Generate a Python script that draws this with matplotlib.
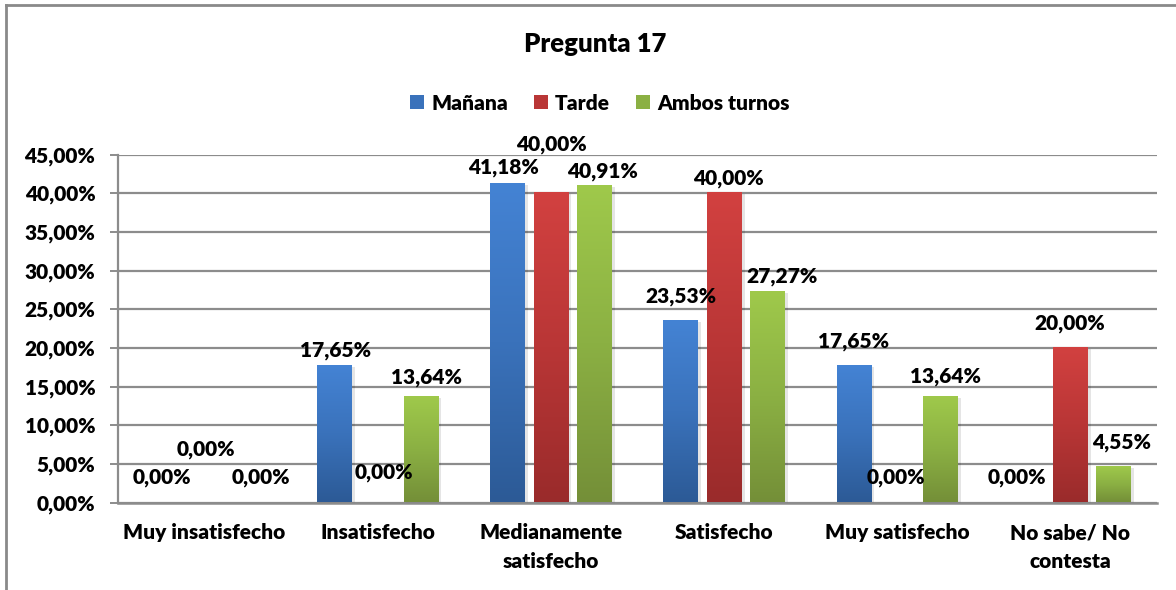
import numpy as np
import matplotlib
matplotlib.use("Agg")
import matplotlib.pyplot as plt
from matplotlib.patches import Patch, Rectangle
from matplotlib.colors import LinearSegmentedColormap
from matplotlib.lines import Line2D

# ---------------- data ----------------
title = "Pregunta 17"
categories = ["Muy insatisfecho", "Insatisfecho", "Medianamente\nsatisfecho",
              "Satisfecho", "Muy satisfecho", "No sabe/ No\ncontesta"]
series_names = ["Mañana", "Tarde", "Ambos turnos"]
manana = [0.00, 17.65, 41.18, 23.53, 17.65, 0.00]
tarde = [0.00, 0.00, 40.00, 40.00, 0.00, 20.00]
ambos = [0.00, 13.64, 40.91, 27.27, 13.64, 4.55]
yticks = [0, 5, 10, 15, 20, 25, 30, 35, 40, 45]

# ---------------- style ----------------
plt.rcParams["font.family"] = ["Lato", "DejaVu Sans"]
WT = "heavy"
plt.rcParams["font.weight"] = WT
FS = 15

top_colors = ["#4483d4", "#d24140", "#9fc94b"]
bot_colors = ["#2c5a96", "#9a2b2b", "#748f38"]
mid_colors = ["#3a72bb", "#b93636", "#8bb043"]

# label offsets in pixels (dx, dy) relative to top centre of each bar
label_offsets = [
    [(1, 25), (1, 16), (-4, 17), (0, 24), (0, 25), (-10, 25)],
    [(1, 53), (6, 30), (1, 49), (4, 15), (-1, 25), (-1, 24)],
    [(13, 25), (5, 20), (8, 15), (15, 15), (5, 21), (8, 25)],
]

W, H = 1176, 590
fig = plt.figure(figsize=(W / 100, H / 100), dpi=100)
fig.patch.set_facecolor("white")

ax = fig.add_axes([118 / W, 1 - 502.5 / H, (1157 - 118) / W, (502.5 - 154.5) / H])
ax.set_xlim(-0.5, len(categories) - 0.5)
ax.set_ylim(0, 45)

series = [manana, tarde, ambos]
bw = 0.2
offs = [-0.25, 0.0, 0.25]
x = np.arange(len(categories))

for s, vals in enumerate(series):
    cmap = LinearSegmentedColormap.from_list("g%d" % s, [bot_colors[s], mid_colors[s], top_colors[s]])
    grad = np.linspace(0, 1, 256).reshape(-1, 1)
    for i, v in enumerate(vals):
        xc = x[i] + offs[s]
        if v > 0:
            sh = Rectangle((xc - bw / 2 + 0.012, 0), bw + 0.006, v - 0.15,
                           facecolor="#000000", alpha=0.10, edgecolor="none", zorder=2)
            ax.add_patch(sh)
            ax.imshow(grad, cmap=cmap, origin="lower", aspect="auto",
                      extent=(xc - bw / 2, xc + bw / 2, 0, v), zorder=3,
                      interpolation="bicubic")
        dx, dy = label_offsets[s][i]
        txt = ("%.2f" % v).replace(".", ",") + "%"
        ax.annotate(txt, xy=(xc, v), xytext=(dx * 0.72, dy * 0.72),
                    textcoords="offset points", ha="center", va="center",
                    fontsize=FS, fontweight=WT, color="black", zorder=5,
                    annotation_clip=False)

ax.set_xlim(-0.5, len(categories) - 0.5)
ax.set_ylim(0, 45)

ax.set_yticks(yticks)
ax.set_yticklabels([("%.2f" % t).replace(".", ",") + "%" for t in yticks],
                   fontsize=FS, fontweight=WT)
ax.yaxis.grid(True, color="#8c8c8c", linewidth=1.6, zorder=1)
ax.set_axisbelow(True)
ax.tick_params(axis="y", length=5.8, width=1.4, color="#8c8c8c", pad=10.5)
ax.set_xticks(x)
ax.set_xticklabels(categories, fontsize=FS, fontweight=WT, linespacing=1.6)
ax.tick_params(axis="x", length=0, pad=15)
for sp in ["top", "right"]:
    ax.spines[sp].set_visible(False)
ax.spines["left"].set_color("#8c8c8c")
ax.spines["left"].set_linewidth(1.6)
ax.spines["bottom"].set_color("#8c8c8c")
ax.spines["bottom"].set_linewidth(1.8)

fig.text(595 / W, 1 - 44 / H, title, ha="center", va="center",
         fontsize=18.5, fontweight=WT)

handles = [Patch(facecolor=mid_colors[k], edgecolor="none") for k in range(3)]
leg = fig.legend(handles, series_names, loc="center", bbox_to_anchor=(600 / W, 1 - 103 / H),
                 ncol=3, frameon=False, handlelength=0.67, handleheight=0.67,
                 handletextpad=0.34, columnspacing=1.25, borderaxespad=0,
                 prop={"family": ["Lato", "DejaVu Sans"], "weight": WT, "size": FS})

fig.add_artist(Line2D([6 / W, 1.0], [1 - 5 / H, 1 - 5 / H], color="#8a8a8a", linewidth=2.0))
fig.add_artist(Line2D([6 / W, 6 / W], [0, 1 - 5 / H], color="#8a8a8a", linewidth=2.0))

fig.savefig("out.png", dpi=100, facecolor="white")
